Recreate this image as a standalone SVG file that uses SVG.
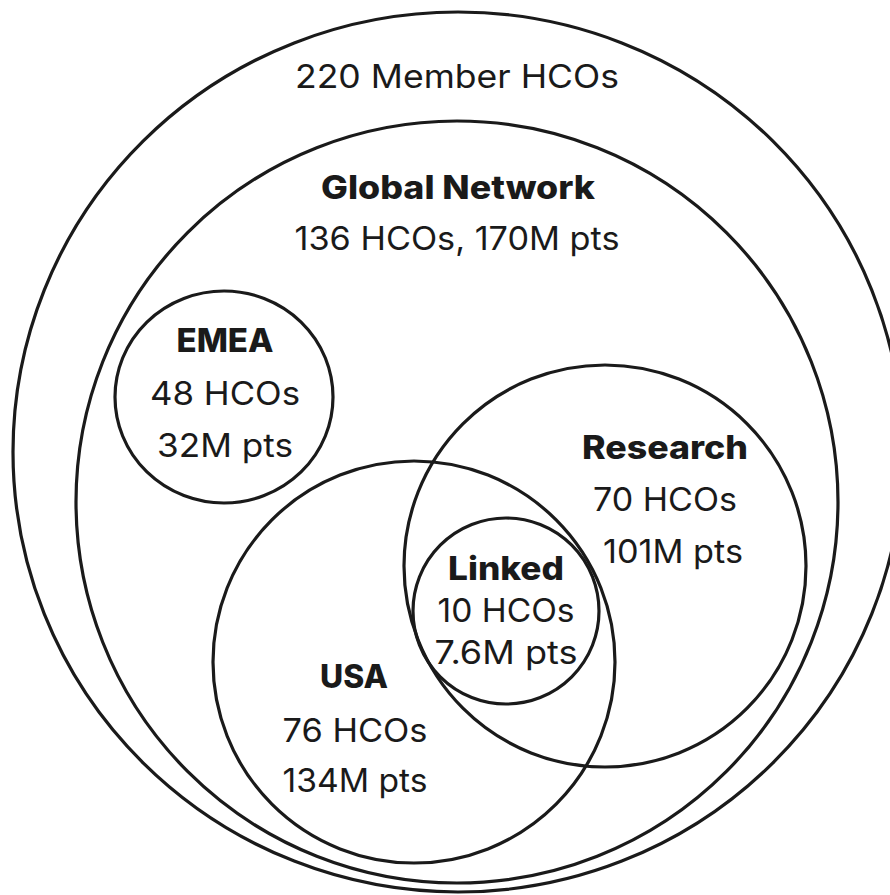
<svg xmlns="http://www.w3.org/2000/svg" width="890" height="895" viewBox="0 0 890 895">
  <style>
    .ring { fill: none; stroke: #1a1a1a; stroke-width: 3.2; }
    text { font-family: Inter, "Noto Sans", "DejaVu Sans", sans-serif; fill: #1a1a1a; text-anchor: middle; font-size: 32.5px; }
    .b { font-weight: 800; font-size: 32px; }
  </style>
  <rect width="890" height="895" fill="#ffffff"/>
  <g id="member">
    <ellipse class="ring" cx="458" cy="452" rx="445" ry="440"/>
    <text x="457" y="88" textLength="324" lengthAdjust="spacingAndGlyphs">220 Member HCOs</text>
  </g>
  <g id="global">
    <circle class="ring" cx="457" cy="502" r="381"/>
    <text class="b" x="458" y="199" textLength="274" lengthAdjust="spacingAndGlyphs">Global Network</text>
    <text x="457" y="250" textLength="325" lengthAdjust="spacingAndGlyphs">136 HCOs, 170M pts</text>
  </g>
  <g id="emea">
    <ellipse class="ring" cx="224" cy="397" rx="109" ry="106"/>
    <text class="b" x="225" y="352" textLength="97" lengthAdjust="spacingAndGlyphs">EMEA</text>
    <text x="225" y="405" textLength="150" lengthAdjust="spacingAndGlyphs">48 HCOs</text>
    <text x="225" y="457" textLength="136" lengthAdjust="spacingAndGlyphs">32M pts</text>
  </g>
  <g id="research">
    <circle class="ring" cx="605" cy="566" r="201"/>
    <text class="b" x="665" y="459" textLength="166" lengthAdjust="spacingAndGlyphs">Research</text>
    <text x="665" y="511" textLength="144" lengthAdjust="spacingAndGlyphs">70 HCOs</text>
    <text x="673" y="563" textLength="140" lengthAdjust="spacingAndGlyphs">101M pts</text>
  </g>
  <g id="usa">
    <circle class="ring" cx="414" cy="662" r="201"/>
    <text class="b" x="354" y="688" textLength="68" lengthAdjust="spacingAndGlyphs">USA</text>
    <text x="355" y="742" textLength="145" lengthAdjust="spacingAndGlyphs">76 HCOs</text>
    <text x="355" y="792" textLength="145" lengthAdjust="spacingAndGlyphs">134M pts</text>
  </g>
  <g id="linked">
    <circle class="ring" cx="506" cy="611" r="93"/>
    <text class="b" x="506" y="580" textLength="116" lengthAdjust="spacingAndGlyphs">Linked</text>
    <text x="506" y="622" textLength="137" lengthAdjust="spacingAndGlyphs">10 HCOs</text>
    <text x="506" y="664" textLength="143" lengthAdjust="spacingAndGlyphs">7.6M pts</text>
  </g>
  <g id="connectors"/>
</svg>
